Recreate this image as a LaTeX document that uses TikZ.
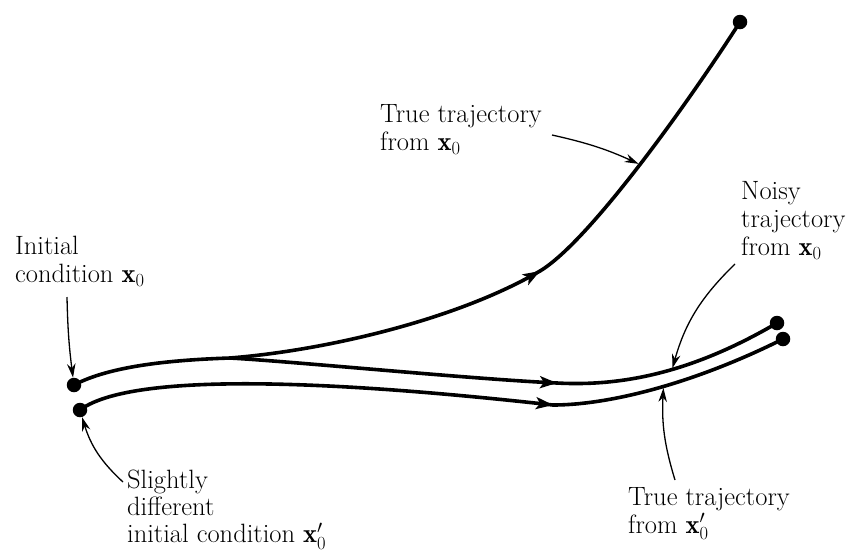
\RequirePackage{fix-cm}
\documentclass[tikz,border=0pt]{standalone}
\usepackage{fontspec}
\usetikzlibrary{arrows.meta,decorations.markings}
\begin{document}
\begin{tikzpicture}[x=1pt,y=-1pt,
  dot/.style={circle,fill=black,inner sep=0pt,minimum size=14.5pt},
  traj/.style={line width=3.6pt,line cap=round},
  trajarrow/.style={traj,postaction={decorate},
    decoration={markings,mark=at position 1 with {\arrow{Stealth[length=17pt,width=12pt,inset=4pt]}}}},
  lab/.style={font=\fontsize{26.5}{28}\selectfont,align=left,inner sep=0pt,anchor=north west},
  labarrow/.style={line width=1.3pt,-{Stealth[length=14pt,width=8.5pt]}}]
\useasboundingbox (0,0) rectangle (851,555);

% end points
\node[dot] (top) at (740,22) {};
\node[dot] (x0) at (74,385) {};
\node[dot] (x0p) at (80,410) {};
\node[dot] (nend) at (777,323) {};
\node[dot] (tend) at (783,339) {};
\coordinate (split) at (230,358);
\coordinate (ta) at (540,271);
\coordinate (na) at (557,383);
\coordinate (la) at (553,405);

% trajectories
\draw[traj] (x0.center) .. controls (110,366) and (170,360) .. (split);
\draw[trajarrow] (split) .. controls (330,350) and (460,318) .. (ta);
\draw[traj] (ta) .. controls (590,241) and (690,100) .. coordinate[pos=0.5] (tp) (top.center);
\draw[trajarrow] (split) .. controls (300,362) and (470,379) .. (na);
\draw[traj] (na) .. controls (630,387) and (700,368) .. coordinate[pos=0.53] (np) (nend.center);
\draw[trajarrow] (x0p.center) .. controls (140,365) and (400,388) .. (la);
\draw[traj] (la) .. controls (610,405) and (695,383) .. coordinate[pos=0.53] (lp) (tend.center);

% labels
\node[lab] (ilab) at (15,236) {Initial\\condition $\mathbf{x}_0$};
\node[lab] (tlab) at (380,104) {True trajectory\\from $\mathbf{x}_0$};
\node[lab] (nlab) at (741,181) {Noisy\\trajectory\\from $\mathbf{x}_0$};
\node[lab,font=\fontsize{26.5}{27}\selectfont] (slab) at (127,470) {Slightly\\different\\initial condition $\mathbf{x}'_0$};
\node[lab] (plab) at (628,487) {True trajectory\\from $\mathbf{x}'_0$};

% label arrows
\coordinate (ia) at (67,297);
\coordinate (ua) at (552,135);
\coordinate (nb) at (735,264);
\coordinate (lb) at (675,480);
\coordinate (sb) at (123,482);
\draw[labarrow] (ia) to[bend right=3] (x0);
\draw[labarrow,shorten >=1.5pt] (ua) to[bend left=6] (tp);
\draw[labarrow,shorten >=1.5pt] (nb) to[bend right=15] (np);
\draw[labarrow,shorten >=1.5pt] (lb) to[bend left=10] (lp);
\draw[labarrow] (sb) to[bend left=15] (x0p);
\end{tikzpicture}
\end{document}
